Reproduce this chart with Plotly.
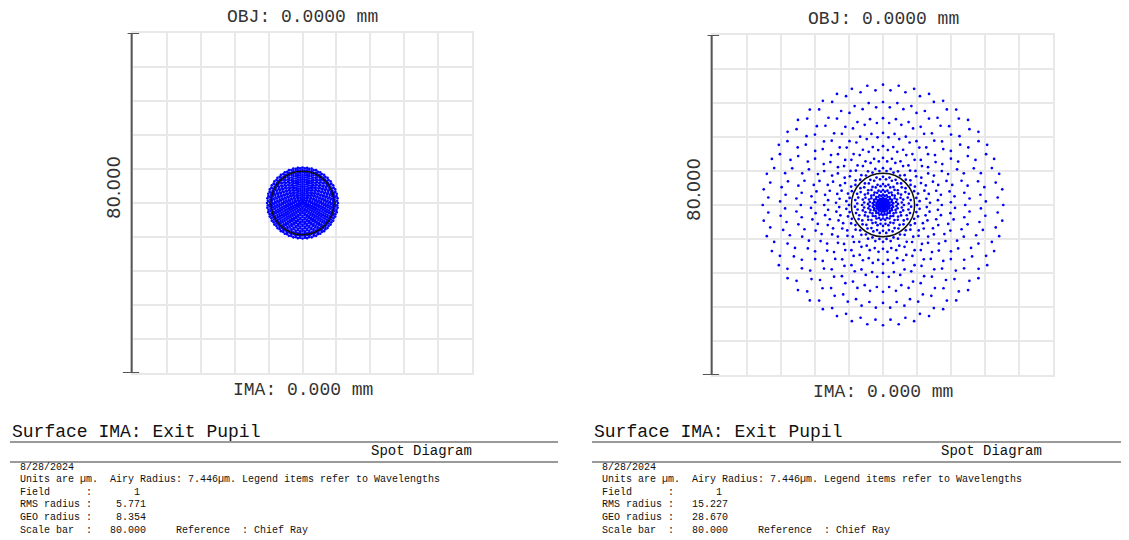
import numpy as np
import plotly.graph_objects as go

# ---------------- data ----------------
obj_titles = ["OBJ: 0.0000 mm", "OBJ: 0.0000 mm"]
ima_labels = ["IMA: 0.000 mm", "IMA: 0.000 mm"]
scale_bar_um = 80.0
airy_radius_um = 7.446
grid_divisions = 10
pupil_rings = 16                     # hexapolar pupil sampling (rings)
ring_stagger = 0.3                   # alternate rays staggered by a fraction of a ring step
# transverse ray aberration coefficients (um) for rho^1, rho^3, rho^5
left_coeffs = [7.95, 0.40, 0.0]
right_coeffs = [2.0, 33.0, -6.7]
rms_radius = ["5.771", "15.227"]
geo_radius = ["8.354", "28.670"]
date_text = "8/28/2024"
field_no = "1"
surface_title = "Surface IMA: Exit Pupil"
analysis_name = "Spot Diagram"

# page body has an 8px margin: the figure is placed at (8, 8)
OFF = 8
W, H = 1129 - OFF, 540 - OFF


def spot(coeffs):
    xs, ys = [0.0], [0.0]
    step = 1.0 / pupil_rings
    for i in range(1, pupil_rings + 1):
        n = 6 * i
        k = np.arange(n)
        rho = i * step - (k % 2) * ring_stagger * step
        ang = 2 * np.pi * k / n + np.pi / 2
        R = coeffs[0] * rho + coeffs[1] * rho ** 3 + coeffs[2] * rho ** 5
        xs.extend(R * np.cos(ang))
        ys.extend(R * np.sin(ang))
    return np.array(xs), np.array(ys)


def pxx(x):
    return (x - OFF) / W


def pxy(y):
    return 1 - (y - OFF) / H


fig = go.Figure()

panels = [
    dict(coeffs=left_coeffs, xd=[133, 472], yd=[33, 373], xa="x", ya="y"),
    dict(coeffs=right_coeffs, xd=[713, 1053], yd=[35, 375], xa="x2", ya="y2"),
]

half = scale_bar_um / 2
shapes = []
annotations = []
for i, p in enumerate(panels):
    sx, sy = spot(p["coeffs"])
    fig.add_trace(go.Scatter(
        x=sx, y=sy, mode="markers", xaxis=p["xa"], yaxis=p["ya"],
        marker=dict(color="#0000ff", size=2.7, line=dict(width=0)),
        hoverinfo="skip", showlegend=False))
    axname = "" if i == 0 else "2"
    common = dict(range=[-half, half], dtick=scale_bar_um / grid_divisions, tick0=-half,
                  showgrid=True, gridcolor="#e8e8e8", gridwidth=2, zeroline=False,
                  showticklabels=False, ticks="", showline=True, mirror=True,
                  linecolor="#e8e8e8", linewidth=2, fixedrange=True)
    fig.update_layout(**{
        "xaxis" + axname: dict(common, domain=[pxx(p["xd"][0]), pxx(p["xd"][1])],
                               anchor="y" + axname),
        "yaxis" + axname: dict(common, domain=[pxy(p["yd"][1]), pxy(p["yd"][0])],
                               anchor="x" + axname),
    })
    xr, yr = p["xa"], p["ya"]
    # Airy circle
    shapes.append(dict(type="circle", xref=xr, yref=yr,
                       x0=-airy_radius_um, x1=airy_radius_um,
                       y0=-airy_radius_um, y1=airy_radius_um,
                       line=dict(color="#111111", width=1.5)))
    # scale bar
    xdr = xr + " domain"
    shapes.append(dict(type="line", xref=xdr, yref=yr, x0=-0.004, x1=-0.004,
                       y0=-half, y1=half, line=dict(color="#555555", width=2)))
    shapes.append(dict(type="line", xref=xdr, yref=yr, x0=-0.016, x1=0.018,
                       y0=half, y1=half, line=dict(color="#555555", width=2)))
    shapes.append(dict(type="line", xref=xdr, yref=yr, x0=-0.030, x1=0.018,
                       y0=-half, y1=-half, line=dict(color="#555555", width=2)))
    annotations.append(dict(text=f"{scale_bar_um:.3f}", xref=xdr, yref=yr,
                            x=-0.058, y=3.6, textangle=-90, showarrow=False,
                            xanchor="center", yanchor="middle",
                            font=dict(family="DejaVu Sans", size=18, color="#333333")))
    annotations.append(dict(text=obj_titles[i], xref=xdr, yref=yr + " domain",
                            x=0.5, y=1.047, showarrow=False, xanchor="center",
                            yanchor="middle",
                            font=dict(family="Liberation Mono", size=18, color="#333333")))
    annotations.append(dict(text=ima_labels[i], xref=xdr, yref=yr + " domain",
                            x=0.5, y=-0.05, showarrow=False, xanchor="center",
                            yanchor="middle",
                            font=dict(family="Liberation Mono", size=18, color="#333333")))

# ---------------- text panels ----------------
NB = "\u00a0"
for i, x0 in enumerate([10, 592]):
    x1 = 558 if i == 0 else 1128
    annotations.append(dict(text=surface_title, xref="paper", yref="paper",
                            x=pxx(x0), y=pxy(432), xanchor="left", yanchor="middle",
                            showarrow=False,
                            font=dict(family="Liberation Mono", size=18, color="#111111")))
    annotations.append(dict(text=analysis_name, xref="paper", yref="paper",
                            x=pxx(x1 - 84), y=pxy(451), xanchor="right", yanchor="middle",
                            showarrow=False,
                            font=dict(family="Liberation Mono", size=14, color="#111111")))
    for yy in (442, 462):
        shapes.append(dict(type="line", xref="paper", yref="paper",
                           x0=pxx(x0), x1=pxx(x1), y0=pxy(yy), y1=pxy(yy),
                           line=dict(color="#9a9a9a", width=2)))
    lines = [
        date_text,
        f"Units are µm.  Airy Radius: {airy_radius_um:.3f}µm. Legend items refer to Wavelengths",
        "Field      :" + field_no.rjust(8),
        "RMS radius :" + rms_radius[i].rjust(9),
        "GEO radius :" + geo_radius[i].rjust(9),
        "Scale bar  :" + f"{scale_bar_um:.3f}".rjust(9) + "     Reference  : Chief Ray",
    ]
    for j, ln in enumerate(lines):
        annotations.append(dict(text=ln.replace(" ", NB), xref="paper", yref="paper",
                                x=pxx(x0 + 8), y=pxy(467 + j * 12.6), xanchor="left",
                                yanchor="middle", showarrow=False,
                                font=dict(family="Liberation Mono", size=10, color="#111111")))

fig.update_layout(
    width=W, height=H, margin=dict(l=0, r=0, t=0, b=0),
    paper_bgcolor="white", plot_bgcolor="white",
    shapes=shapes, annotations=annotations, showlegend=False,
)

fig.write_html("out.html")
